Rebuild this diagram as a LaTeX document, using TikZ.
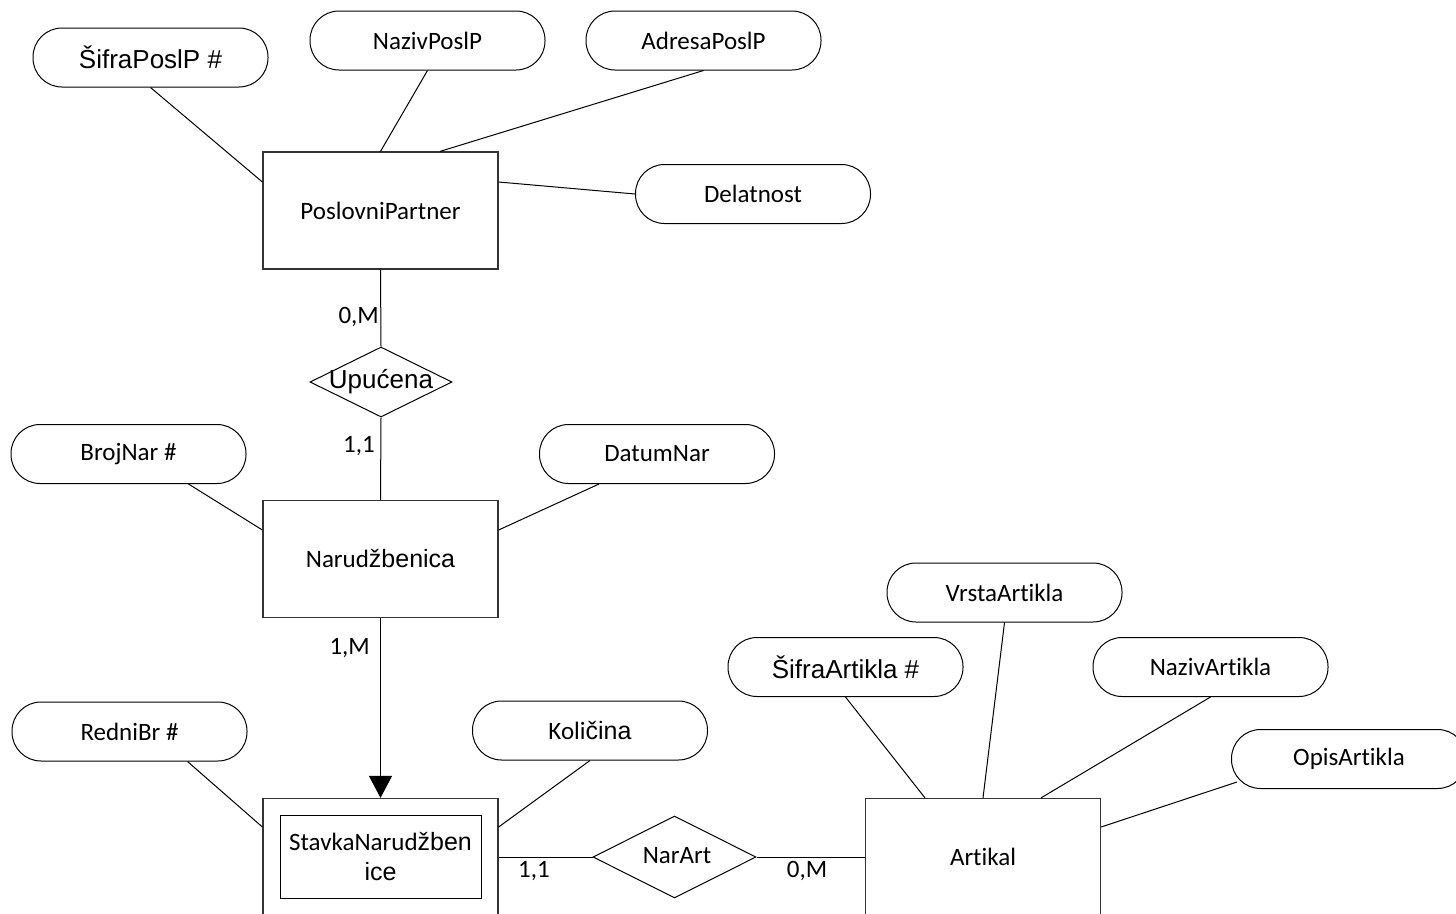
\documentclass[tikz,border=0pt]{standalone}
\usepackage{fontspec}
\setmainfont{Carlito}[Ligatures={NoCommon}]
\newfontfamily\arial{Liberation Sans}
\usetikzlibrary{shapes.geometric,arrows.meta}
\begin{document}
\begin{tikzpicture}[x=1pt,y=-1pt,
  every node/.style={font=\fontsize{25}{30}\selectfont},
  attr/.style={draw, line width=1pt, rounded corners=29pt, minimum width=235pt, minimum height=59pt, inner sep=0pt},
  entity/.style={draw=black!80, line width=1.2pt, minimum width=235pt, minimum height=117pt, inner sep=0pt},
  rel/.style={draw, diamond, line width=1pt, inner sep=0pt},
  card/.style={inner sep=0pt},
  link/.style={line width=1pt},
  ar/.style={font=\arial\fontsize{26}{30}\selectfont}
]
\useasboundingbox (0,0) rectangle (1456,913);
\clip (0,0) rectangle (1456,913);

% PoslovniPartner and its attributes
\node[attr, ar] (sifraPP) at (150.5,57.5) {ŠifraPoslP \#};
\node[attr] (nazivPP) at (427.5,40.5) {NazivPoslP};
\node[attr] (adresaPP) at (703.5,40.5) {AdresaPoslP};
\node[attr] (delat) at (753,194) {Delatnost};
\node[entity] (pp) at (380.5,210.5) {PoslovniPartner};

% relationship Upućena
\node[rel, minimum width=142pt, minimum height=70pt] (upuc) at (381,382) {};
\node[ar, inner sep=0pt] (upucT) at (upuc.center) {Upućena};
\node[card, anchor=east] (c1) at (379,317) {0,M};
\node[card, anchor=east] (c2) at (375,446) {1,1};

% Narudžbenica and its attributes
\node[attr] (brojNar) at (128.5,454) {BrojNar \#};
\node[attr] (datumNar) at (657,454) {DatumNar};
\node[entity] (narud) at (380.5,559) {Narud{\arial žbenica}};
\node[card, anchor=east] (c3) at (370,648) {1,M};

% weak entity StavkaNarudžbenice
\node[attr] (redniBr) at (129.5,731.5) {RedniBr \#};
\node[attr] (kolicina) at (590,730.5) {Koli{\arial čina}};
\node[entity] (stavka) at (380.5,857) {};
\node[draw, line width=1pt, minimum width=201pt, minimum height=83pt, inner sep=0pt, align=center] (stavkaIn) at (380.5,856.5) {StavkaNarud{\arial žben}\\{\arial ice}};

% relationship NarArt
\node[rel, minimum width=163pt, minimum height=82pt] (narart) at (674.5,857) {};
\node[inner sep=0pt] (narartT) at (677,856) {NarArt};
\node[card] (c4) at (534,871) {1,1};
\node[card] (c5) at (807,871) {0,M};

% Artikal and its attributes
\node[attr] (vrsta) at (1004.5,592.5) {VrstaArtikla};
\node[attr, ar] (sifraArt) at (845.5,667) {ŠifraArtikla \#};
\node[attr] (nazivArt) at (1210.5,667) {NazivArtikla};
\node[attr] (opis) at (1349,759) {OpisArtikla};
\node[entity] (artikal) at (983,857) {Artikal};

% connectors
\draw[link] (sifraPP.south) -- ([yshift=28.5pt]pp.west);
\draw[link] (nazivPP.south) -- (pp.north);
\draw[link] (adresaPP.south) -- ([xshift=59.5pt]pp.north);
\draw[link] ([yshift=28.5pt]pp.east) -- (delat.west);
\draw[link] (pp.south) -- (upuc.north);
\draw[link] (upuc.south) -- (narud.north);
\draw[link] ([xshift=60pt]brojNar.south) -- ([yshift=29pt]narud.west);
\draw[link] ([xshift=-58pt]datumNar.south) -- ([yshift=29pt]narud.east);
\draw[link, -{Triangle[width=23pt,length=22pt]}] (narud.south) -- (stavka.north);
\draw[link] ([xshift=58pt]redniBr.south) -- ([yshift=30pt]stavka.west);
\draw[link] (kolicina.south) -- ([yshift=30pt]stavka.east);
\draw[link] (stavka.east) -- (narart.west);
\draw[link] (narart.east) -- (artikal.west);
\draw[link] (sifraArt.south) -- ([xshift=-58pt]artikal.north);
\draw[link] (vrsta.south) -- (artikal.north);
\draw[link] (nazivArt.south) -- ([xshift=58pt]artikal.north);
\draw[link] ([xshift=6pt,yshift=7pt]opis.south west) -- ([yshift=30pt]artikal.east);
\end{tikzpicture}
\end{document}
